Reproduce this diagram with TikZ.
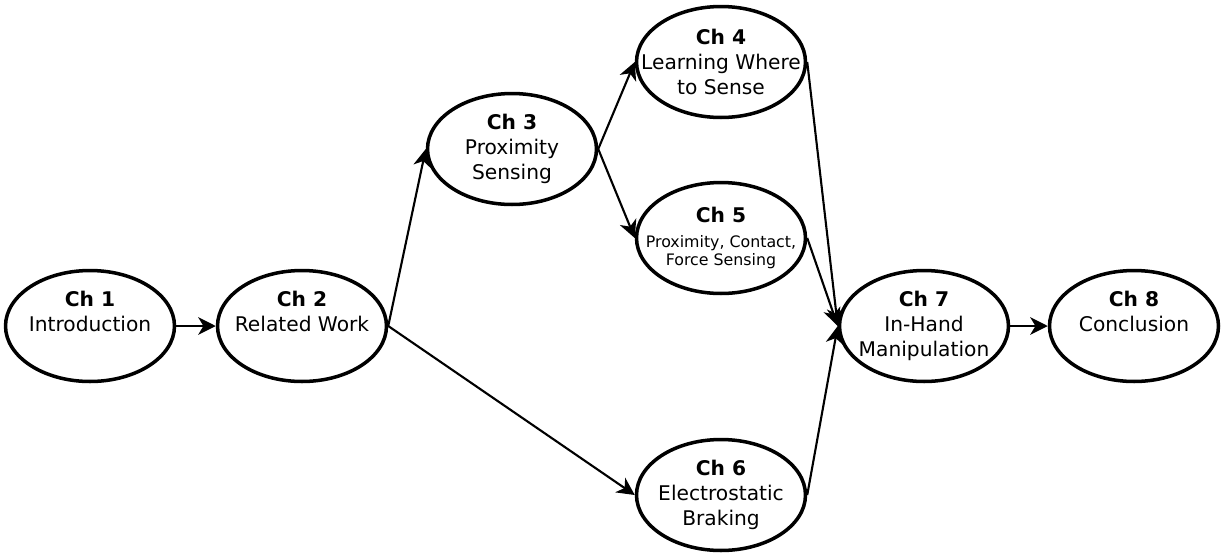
\documentclass[tikz,border=0pt]{standalone}
\usepackage{fontspec}
\setmainfont{DejaVu Sans}
\usetikzlibrary{shapes.geometric, arrows.meta}
\newcommand{\smalltext}{\fontsize{9}{11}\selectfont}
\tikzstyle{chapter} = [ellipse, minimum width=3.38cm, minimum height=2.22cm, inner sep=-2cm, align=center, draw=black, line width=2pt, font=\fontsize{11.5}{14.2}\selectfont]
\tikzstyle{arrow} = [line width=1.2pt, -{Stealth[length=10pt, width=10pt, inset=3pt]}]

\begin{document}
\begin{tikzpicture}[x=0.02cm, y=-0.02cm]
\useasboundingbox (0,0) rectangle (1225,552);

% Chapters
\node (ch1) [chapter] at (90,326) {\textbf{Ch 1}\\Introduction\\\phantom{p}};
\node (ch2) [chapter] at (302,326) {\textbf{Ch 2}\\Related Work\\\phantom{p}};
\node (ch3) [chapter] at (512,149) {\textbf{Ch 3}\\Proximity\\Sensing};
\node (ch4) [chapter] at (721,62) {\textbf{Ch 4}\\Learning Where\\to Sense};
\node (ch5) [chapter] at (721,238) {\textbf{Ch 5}\\\smalltext Proximity, Contact,\\[-3.5pt]\smalltext Force Sensing};
\node (ch6) [chapter] at (721,495) {\textbf{Ch 6}\\Electrostatic\\Braking};
\node (ch7) [chapter] at (924,326) {\textbf{Ch 7}\\In-Hand\\Manipulation};
\node (ch8) [chapter] at (1134,326) {\textbf{Ch 8}\\Conclusion\\\phantom{p}};

% Reading order
\draw [arrow] (ch1.east) -- (ch2.west);
\draw [arrow] (ch2.east) -- (ch3.west);
\draw [arrow] (ch2.east) -- (ch6.west);
\draw [arrow] (ch3.east) -- (ch4.west);
\draw [arrow] (ch3.east) -- (ch5.west);
\draw [arrow] (ch4.east) -- (ch7.west);
\draw [arrow] (ch5.east) -- (ch7.west);
\draw [arrow] (ch6.east) -- (ch7.west);
\draw [arrow] (ch7.east) -- (ch8.west);

\end{tikzpicture}
\end{document}
